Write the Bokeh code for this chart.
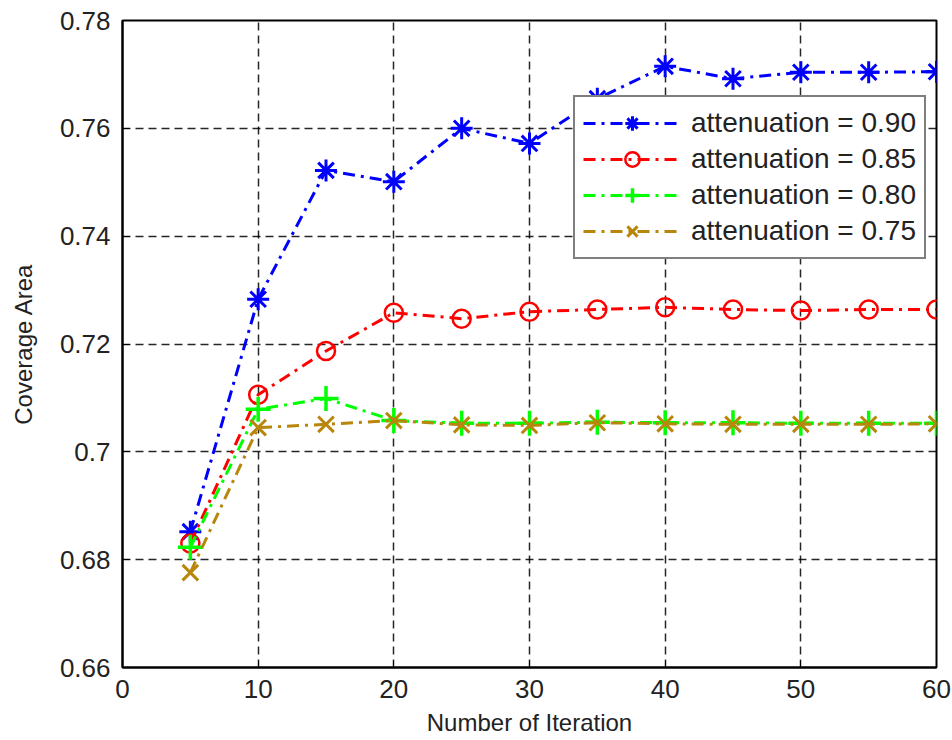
from bokeh.plotting import figure
from bokeh.models import FixedTicker, CustomJSTickFormatter, Range1d
from bokeh.embed import file_html
from bokeh.resources import INLINE

iterations = [5, 10, 15, 20, 25, 30, 35, 40, 45, 50, 55, 60]
att_090 = [0.6852, 0.7283, 0.7522, 0.7501, 0.7600, 0.7572, 0.7655, 0.7715, 0.7692, 0.7704, 0.7704, 0.7705]
att_085 = [0.6830, 0.7106, 0.7187, 0.7258, 0.7247, 0.7260, 0.7264, 0.7268, 0.7264, 0.7262, 0.7264, 0.7264]
att_080 = [0.6823, 0.7079, 0.7099, 0.7058, 0.7053, 0.7053, 0.7055, 0.7054, 0.7054, 0.7053, 0.7053, 0.7053]
att_075 = [0.6776, 0.7045, 0.7051, 0.7058, 0.7050, 0.7049, 0.7054, 0.7052, 0.7051, 0.7051, 0.7051, 0.7052]

labels = ["attenuation = 0.90", "attenuation = 0.85", "attenuation = 0.80", "attenuation = 0.75"]
x_ticks = [0, 10, 20, 30, 40, 50, 60]
y_ticks = [0.66, 0.68, 0.70, 0.72, 0.74, 0.76, 0.78]

FONT = "Liberation Sans"
TXT = "#222222"

p = figure(width=952, height=740, output_backend="svg", toolbar_location=None,
           x_range=Range1d(0, 60), y_range=Range1d(0.66, 0.78),
           min_border_left=122, min_border_right=16, min_border_top=20, min_border_bottom=73)

p.outline_line_color = "black"
p.outline_line_width = 2
p.background_fill_color = "white"
p.border_fill_color = "white"

for ax in (p.xaxis[0], p.yaxis[0]):
    ax.axis_line_color = "black"
    ax.axis_line_width = 2
    ax.major_tick_in = 7
    ax.major_tick_out = 0
    ax.minor_tick_in = 0
    ax.minor_tick_out = 0
    ax.major_tick_line_color = "black"
    ax.major_label_text_font = FONT
    ax.major_label_text_font_size = "26px"
    ax.major_label_text_color = TXT
    ax.axis_label_text_font = FONT
    ax.axis_label_text_font_size = "24px"
    ax.axis_label_text_font_style = "normal"
    ax.axis_label_text_color = TXT
    ax.major_label_standoff = 12

p.xaxis.ticker = FixedTicker(ticks=x_ticks)
p.yaxis.ticker = FixedTicker(ticks=y_ticks)
p.yaxis.formatter = CustomJSTickFormatter(code="return String(Number(tick.toFixed(2)));")
p.xaxis.formatter = CustomJSTickFormatter(code="return String(Math.round(tick));")
p.xaxis.axis_label = "Number of Iteration"
p.yaxis.axis_label = "Coverage Area"
p.xaxis.axis_label_standoff = 8
p.yaxis.axis_label_standoff = 20

for g in (p.xgrid[0], p.ygrid[0]):
    g.grid_line_color = "black"
    g.grid_line_width = 1.5
    g.grid_line_alpha = 0.85
    g.grid_line_dash = "8 5"

series = [
    (att_090, "#0000ff", "asterisk", 22, 3),
    (att_085, "#ff0000", "circle", 18, 2.5),
    (att_080, "#00ff00", "cross", 25, 3.5),
    (att_075, "#b8860b", "x", 22, 3),
]

for (vals, col, mk, sz, mw), lab in zip(series, labels):
    p.line(iterations, vals, line_color=col, line_width=3, line_dash="12 6 3 6", legend_label=lab)
    if mk == "circle":
        p.scatter(iterations, vals, marker=mk, size=sz, line_color=col, fill_color=None,
                  line_width=mw, legend_label=lab)
    else:
        p.scatter(iterations, vals, marker=mk, size=sz, line_color=col, line_width=mw, legend_label=lab)

lg = p.legend[0]
lg.location = (451, 408)
lg.label_text_font = FONT
lg.label_text_font_size = "28px"
lg.label_text_color = TXT
lg.border_line_color = "black"
lg.border_line_width = 2
lg.background_fill_color = "white"
lg.background_fill_alpha = 1
lg.glyph_width = 98
lg.glyph_height = 36
lg.label_height = 34
lg.spacing = 0
lg.padding = 8
lg.margin = 0
lg.label_standoff = 10

open("out.html", "w").write(file_html(p, INLINE))
